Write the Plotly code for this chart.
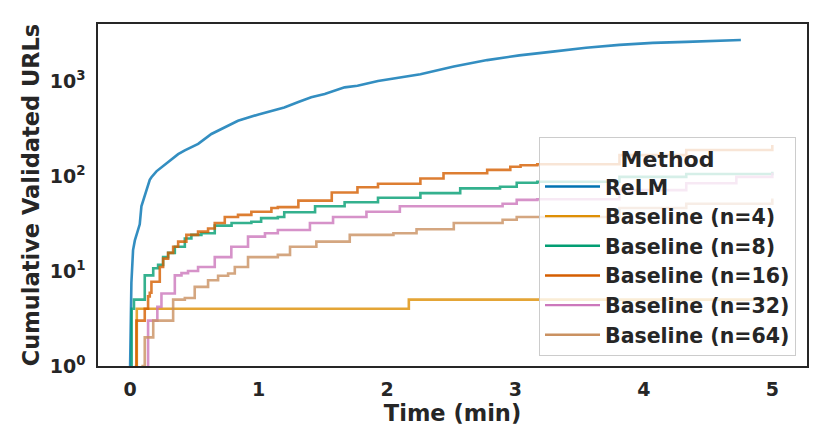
import plotly.graph_objects as go

# cumulative validated URLs over time (minutes)
relm_t = [0.0, 0.01, 0.023, 0.037, 0.075, 0.088, 0.153, 0.166, 0.205, 0.283, 0.296, 0.374, 0.426, 0.53,
          0.633, 0.737, 0.84, 1.0, 1.1, 1.2, 1.31, 1.41, 1.515, 1.67, 1.77, 1.93, 2.26, 2.52, 2.78, 3.03,
          3.29, 3.55, 3.81, 4.07, 4.33, 4.59, 4.755]
relm_v = [1, 7.5, 16.6, 21, 31, 48, 91, 97, 112, 136, 139, 170, 186, 218,
          277, 325, 381, 445, 480, 527, 600, 674, 730, 857, 890, 1000, 1180, 1420, 1660, 1860,
          2040, 2240, 2400, 2520, 2580, 2650, 2700]

n4_t = [0.05, 0.052, 2.17, 5.0]
n4_v = [1, 4, 5, 5]

n8_t = [0.005, 0.012, 0.03, 0.114, 0.18, 0.218, 0.257, 0.296, 0.348, 0.426, 0.477, 0.555, 0.659, 0.79,
        0.944, 1.02, 1.15, 1.2, 1.44, 1.67, 1.93, 2.26, 2.44, 2.57, 2.88, 3.01, 3.17, 3.81, 4.33, 5.0]
n8_v = [1, 4, 5, 9, 10.7, 11.6, 14, 15.5, 18, 22, 24, 25, 30, 32,
        33, 36, 37, 41.5, 48, 53, 59, 66, 66, 74, 77, 85, 87, 98, 105, 111]

n16_t = [0.037, 0.049, 0.114, 0.14, 0.153, 0.166, 0.231, 0.257, 0.296, 0.335, 0.374, 0.438, 0.529, 0.607,
         0.659, 0.737, 0.84, 0.944, 1.1, 1.15, 1.31, 1.57, 1.77, 1.93, 2.26, 2.44, 2.78, 2.96, 3.04, 3.17,
         3.81, 4.33, 5.0]
n16_v = [1, 3, 4, 5.4, 5.9, 7.7, 11, 13.5, 15.5, 18, 20.4, 24, 26, 28,
         32, 37, 39, 42, 46, 47, 55, 67, 76, 83, 94, 107, 116, 125, 130, 133,
         166, 188, 212]

n32_t = [0.135, 0.14, 0.212, 0.244, 0.348, 0.4, 0.451, 0.529, 0.659, 0.788, 0.918, 1.05, 1.15, 1.4,
         1.58, 1.84, 2.1, 2.52, 2.9, 3.01, 3.17, 3.81, 4.33, 4.72, 5.0]
n32_v = [1, 3, 4.2, 5.8, 9, 9.5, 10, 11, 14, 18, 23, 25, 27, 32,
         37, 42, 48, 48, 51, 56, 57, 71, 84, 98, 108]

n64_t = [0.088, 0.114, 0.18, 0.335, 0.426, 0.503, 0.607, 0.685, 0.763, 0.815, 0.918, 1.15, 1.245, 1.45,
         1.71, 2.05, 2.23, 2.52, 2.9, 3.01, 3.17, 3.81, 4.33, 5.0]
n64_v = [1, 2, 3, 5, 5.2, 6.8, 8, 8.9, 9.4, 11, 14, 14.8, 18, 20.4,
         24, 25, 27.5, 32, 34.6, 37, 37, 46, 51, 58]

names = ["ReLM", "Baseline (n=4)", "Baseline (n=8)", "Baseline (n=16)", "Baseline (n=32)", "Baseline (n=64)"]
colors = ["#0173b2", "#de8f05", "#029e73", "#d55e00", "#cc78bc", "#ca9161"]
series = [(relm_t, relm_v), (n4_t, n4_v), (n8_t, n8_v), (n16_t, n16_v), (n32_t, n32_v), (n64_t, n64_v)]

ytick_vals = [1, 10, 100, 1000]
ytick_text = ["10<sup>0</sup>", "10<sup>1</sup>", "10<sup>2</sup>", "10<sup>3</sup>"]

fig = go.Figure()
for i, (t, v) in enumerate(series):
    shape = "linear" if i == 0 else "hv"
    fig.add_trace(go.Scatter(x=t, y=v, mode="lines", name=names[i], showlegend=False,
                             line=dict(color=colors[i], width=2.6, shape=shape), opacity=0.8))
# legend handles drawn at full colour
for i in range(len(names)):
    fig.add_trace(go.Scatter(x=[None], y=[None], mode="lines", name=names[i],
                             line=dict(color=colors[i], width=2.4)))

font = dict(family="DejaVu Sans", color="#262626", weight="bold")

# page has an 8px body margin, so the figure is 8px smaller than the window
fig.update_layout(
    width=822, height=439,
    margin=dict(l=90, r=23, t=16, b=81),
    plot_bgcolor="white", paper_bgcolor="white",
    font=dict(**font, size=19),
    xaxis=dict(
        range=[-0.25, 5.27], tickvals=[0, 1, 2, 3, 4, 5],
        showgrid=False, zeroline=False, ticks="", ticklabelstandoff=5,
        showline=True, mirror=True, linecolor="#262626", linewidth=1.5,
        tickfont=dict(**font, size=19),
        title=dict(text="Time (min)", font=dict(**font, size=22.5), standoff=6),
    ),
    yaxis=dict(
        type="log", range=[0, 3.6],
        tickvals=ytick_vals, ticktext=ytick_text,
        showgrid=False, zeroline=False, ticks="", ticklabelstandoff=7,
        showline=True, mirror=True, linecolor="#262626", linewidth=1.5,
        tickfont=dict(**font, size=19),
        title=dict(text="Cumulative Validated URLs", font=dict(**font, size=22.5), standoff=4),
    ),
    legend=dict(
        x=0.9845, y=0.029, xanchor="right", yanchor="bottom",
        bgcolor="rgba(255,255,255,0.8)", bordercolor="#cccccc", borderwidth=1,
        font=dict(**font, size=20.5), itemwidth=55,
        title=dict(text="Method", side="top center", font=dict(**font, size=22)),
    ),
)

fig.write_html("out.html")
